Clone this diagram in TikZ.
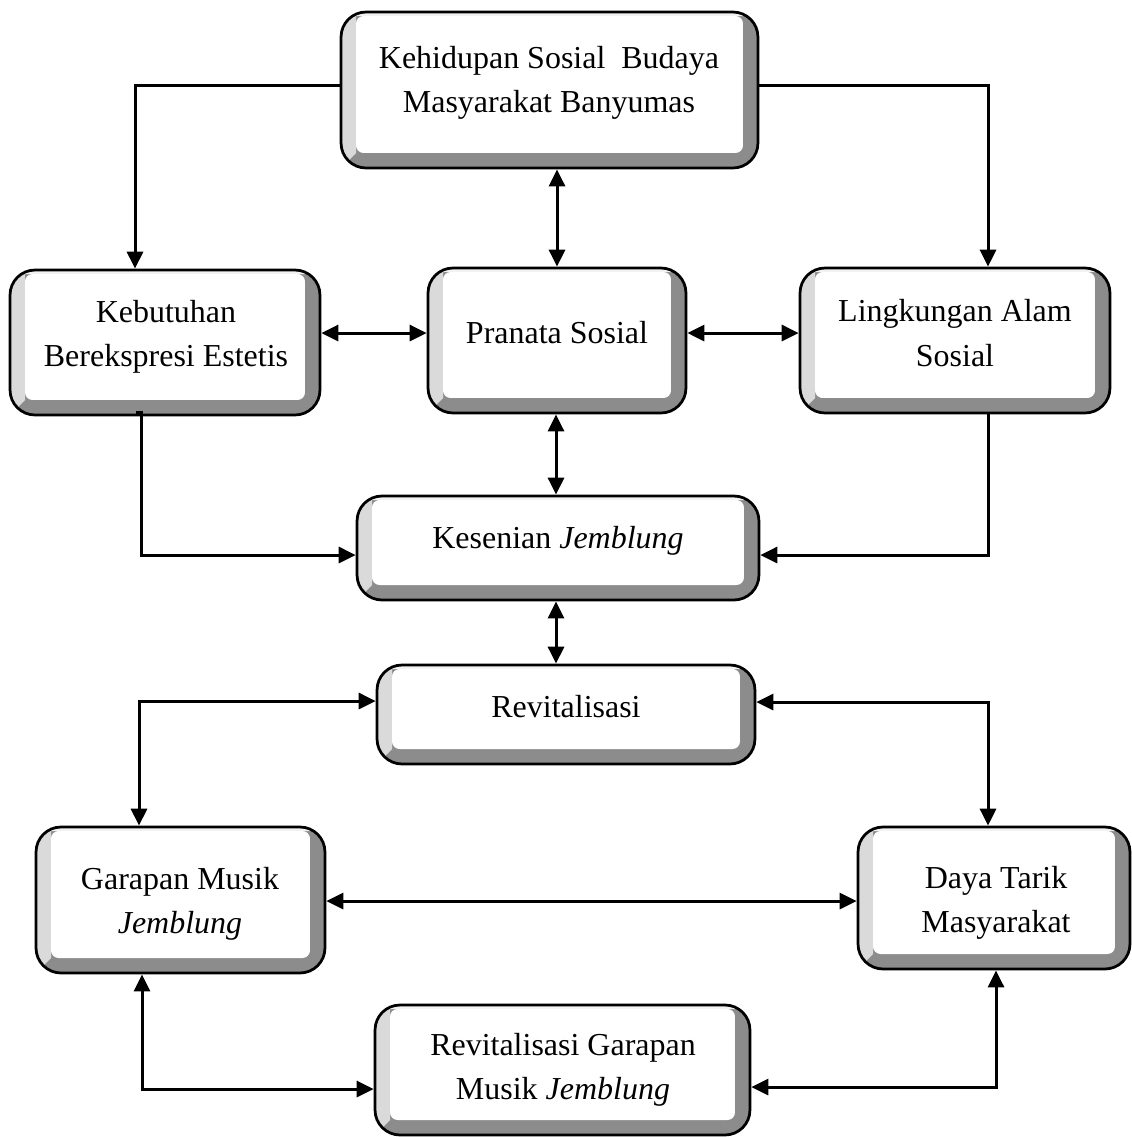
\documentclass[tikz,border=0pt]{standalone}
\usepackage{fontspec}
\setmainfont{Liberation Serif}
\usetikzlibrary{arrows.meta,calc}
\definecolor{bevdark}{RGB}{140,140,140}
\definecolor{bevlight}{RGB}{218,218,218}
\definecolor{bevtop}{RGB}{242,242,242}
\tikzset{
  bevel/.style={draw=black, line width=0.055cm, rounded corners=0.5cm, fill=bevdark, inner sep=0pt,
    path picture={
      \path (path picture bounding box.south west) coordinate (pA)
            (path picture bounding box.north east) coordinate (pB);
      \fill[bevlight, sharp corners] (pA) -- (pA|-pB) -- ($(pA|-pB)+(0.3cm,-0.08cm)$) -- ($(pA)+(0.3cm,0.3cm)$) -- cycle;
      \fill[bevtop, sharp corners] (pA|-pB) -- (pB) -- ($(pB)+(-0.3cm,-0.08cm)$) -- ($(pA|-pB)+(0.3cm,-0.08cm)$) -- cycle;
      \fill[white, rounded corners=0.15cm] ($(pA)+(0.3cm,0.3cm)$) rectangle ($(pB)+(-0.3cm,-0.08cm)$);
    }},
  txt/.style={align=center, inner sep=0pt, font=\fontsize{18.2}{25.2}\selectfont},
  arr/.style={line width=0.06cm, -{Triangle[length=0.34cm,width=0.32cm]}},
  darr/.style={line width=0.06cm, {Triangle[length=0.34cm,width=0.32cm]}-{Triangle[length=0.34cm,width=0.32cm]}}
}
\begin{document}
\begin{tikzpicture}[x=0.02cm,y=-0.02cm]
\useasboundingbox (0,0) rectangle (1132,1137);
% boxes
\node[bevel, minimum width=8.34cm, minimum height=3.12cm] (k1) at (549.5,90) {};
\node[bevel, minimum width=6.2cm, minimum height=2.9cm] (keb) at (165,342.5) {};
\node[bevel, minimum width=5.16cm, minimum height=2.9cm] (pra) at (557,340.5) {};
\node[bevel, minimum width=6.2cm, minimum height=2.9cm] (lin) at (955,340.5) {};
\node[bevel, minimum width=8.04cm, minimum height=2.08cm] (kes) at (558,548) {};
\node[bevel, minimum width=7.56cm, minimum height=1.98cm] (rev) at (566,714.5) {};
\node[bevel, minimum width=5.78cm, minimum height=2.92cm] (gar) at (180.5,900) {};
\node[bevel, minimum width=5.44cm, minimum height=2.84cm] (daya) at (994,898) {};
\node[bevel, minimum width=7.5cm, minimum height=2.6cm] (rg) at (562.5,1070) {};
% texts
\node[txt] (k1t) at (549,83) {Kehidupan Sosial\ \ Budaya\\Masyarakat Banyumas};
\node[txt] (kebt) at (166,337) {Kebutuhan\\Berekspresi Estetis};
\node[txt] (prat) at (557,333) {Pranata Sosial};
\node[txt] (lint) at (955,333) {Lingkungan Alam\\Sosial};
\node[txt] (kest) at (558,541) {Kesenian \textit{Jemblung}};
\node[txt] (revt) at (566,707) {Revitalisasi};
\node[txt] (gart) at (180,904) {Garapan Musik\\\textit{Jemblung}};
\node[txt] (dayat) at (996,903) {Daya Tarik\\Masyarakat};
\node[txt] (rgt) at (563,1070) {Revitalisasi Garapan\\Musik \textit{Jemblung}};
% connectors
\draw[arr] ($(k1.west)+(0,-5)$) -| ($(keb.north)+(-30,0)$);
\draw[arr] ($(k1.east)+(0,-5)$) -| ($(lin.north)+(33,0)$);
\draw[darr] (k1.south -| pra.north) -- (pra.north);
\draw[darr] ($(keb.east)+(0,-9.5)$) -- ($(pra.west)+(0,-7.5)$);
\draw[darr] ($(pra.east)+(0,-7.5)$) -- ($(lin.west)+(0,-7.5)$);
\draw[darr] ($(pra.south)+(-1,0)$) -- ($(kes.north)+(-2,0)$);
\draw[arr] ($(keb.south)+(-29,-4)$) -- ($(keb.south)+(-24,-4)$) |- ($(kes.west)+(0,7)$);
\draw[arr] ($(lin.south)+(33,0)$) |- ($(kes.east)+(0,7)$);
\draw[darr] ($(kes.south)+(-2,0)$) -- ($(rev.north)+(-10,0)$);
\draw[darr] ($(rev.west)+(0,-13.5)$) -| ($(gar.north)+(-41.5,0)$);
\draw[darr] ($(rev.east)+(0,-12.5)$) -| ($(daya.north)+(-6,0)$);
\draw[darr] ($(gar.east)+(0,1)$) -- ($(daya.west)+(0,3)$);
\draw[darr] ($(gar.south)+(-38.5,0)$) |- ($(rg.west)+(0,19)$);
\draw[darr] ($(daya.south)+(2,0)$) |- ($(rg.east)+(0,17)$);
\end{tikzpicture}
\end{document}
